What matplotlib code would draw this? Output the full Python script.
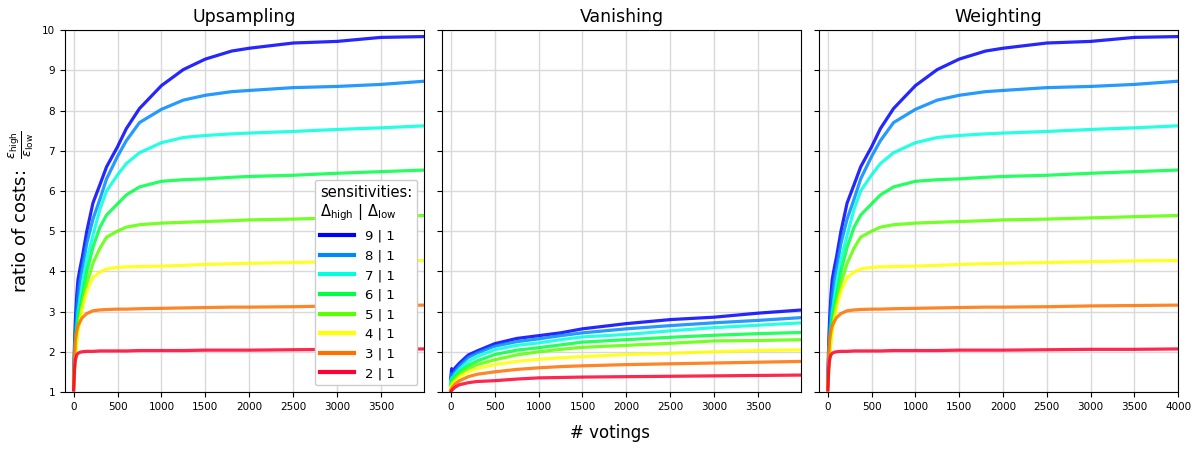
import numpy as np
import matplotlib
matplotlib.use("Agg")
import matplotlib.pyplot as plt

# sensitivity pairs, top of chart to bottom
labels = ["9 | 1", "8 | 1", "7 | 1", "6 | 1", "5 | 1", "4 | 1", "3 | 1", "2 | 1"]

# Upsampling / Weighting (both panels look the same)
x_up = [0, 10, 20, 35, 50, 75, 100, 150, 220, 300, 375, 500, 600, 750, 1000, 1250, 1500,
        1800, 2000, 2500, 3000, 3500, 3999]
up_9 = [1.35, 2.2, 2.8, 3.4, 3.8, 4.1, 4.37, 5.0, 5.7, 6.16, 6.6, 7.1, 7.55, 8.05, 8.62, 9.02, 9.28,
        9.48, 9.55, 9.68, 9.72, 9.82, 9.84]
up_8 = [1.3, 2.0, 2.5, 3.0, 3.4, 3.8, 4.1, 4.7, 5.3, 5.8, 6.3, 6.86, 7.25, 7.7, 8.03, 8.26, 8.38,
        8.47, 8.5, 8.57, 8.6, 8.65, 8.73]
up_7 = [1.25, 1.8, 2.2, 2.6, 3.0, 3.35, 3.7, 4.3, 4.9, 5.55, 6.0, 6.4, 6.68, 6.95, 7.2, 7.33, 7.38,
        7.42, 7.44, 7.48, 7.53, 7.57, 7.62]
up_6 = [1.2, 1.7, 2.0, 2.45, 2.8, 3.1, 3.4, 4.0, 4.6, 5.1, 5.4, 5.68, 5.9, 6.1, 6.24, 6.28, 6.3,
        6.34, 6.36, 6.39, 6.44, 6.48, 6.52]
up_5 = [1.15, 1.6, 1.9, 2.3, 2.6, 2.9, 3.2, 3.7, 4.2, 4.58, 4.85, 5.0, 5.1, 5.16, 5.2, 5.22, 5.24,
        5.26, 5.28, 5.3, 5.33, 5.36, 5.39]
up_4 = [1.1, 1.5, 1.8, 2.2, 2.5, 2.8, 3.1, 3.5, 3.85, 3.98, 4.06, 4.1, 4.11, 4.12, 4.13, 4.15, 4.17,
        4.19, 4.2, 4.22, 4.24, 4.26, 4.27]
up_3 = [1.05, 1.9, 2.3, 2.52, 2.65, 2.76, 2.85, 2.95, 3.02, 3.04, 3.05, 3.06, 3.06, 3.07, 3.08, 3.09, 3.1,
        3.11, 3.11, 3.12, 3.14, 3.15, 3.16]
up_2 = [1.05, 1.55, 1.8, 1.92, 1.96, 1.99, 2.0, 2.01, 2.01, 2.02, 2.02, 2.02, 2.02, 2.03, 2.03, 2.03, 2.04,
        2.04, 2.04, 2.05, 2.06, 2.06, 2.07]

# Vanishing
x_van = [0, 10, 20, 50, 100, 200, 300, 500, 750, 1000, 1250, 1500, 2000, 2500, 3000, 3500, 3999]
van_9 = [1.35, 1.58, 1.5, 1.6, 1.72, 1.92, 2.02, 2.2, 2.33, 2.4, 2.47, 2.57, 2.7, 2.8, 2.86, 2.96, 3.04]
van_8 = [1.3, 1.45, 1.42, 1.52, 1.65, 1.86, 1.97, 2.14, 2.25, 2.32, 2.4, 2.47, 2.57, 2.65, 2.72, 2.78, 2.85]
van_7 = [1.25, 1.35, 1.35, 1.45, 1.57, 1.76, 1.88, 2.05, 2.16, 2.22, 2.3, 2.37, 2.43, 2.52, 2.6, 2.66, 2.72]
van_6 = [1.2, 1.26, 1.3, 1.38, 1.5, 1.66, 1.77, 1.93, 2.04, 2.1, 2.17, 2.24, 2.3, 2.36, 2.41, 2.45, 2.48]
van_5 = [1.15, 1.2, 1.25, 1.33, 1.44, 1.58, 1.68, 1.8, 1.92, 2.0, 2.06, 2.11, 2.16, 2.21, 2.27, 2.28, 2.3]
van_4 = [1.1, 1.15, 1.2, 1.28, 1.38, 1.5, 1.58, 1.68, 1.76, 1.81, 1.85, 1.88, 1.93, 1.96, 2.0, 2.03, 2.05]
van_3 = [1.05, 1.08, 1.12, 1.2, 1.28, 1.38, 1.44, 1.5, 1.56, 1.6, 1.63, 1.65, 1.68, 1.7, 1.72, 1.74, 1.76]
van_2 = [1.0, 1.03, 1.06, 1.12, 1.18, 1.23, 1.26, 1.28, 1.32, 1.35, 1.36, 1.37, 1.38, 1.39, 1.4, 1.41, 1.42]

upsampling = [up_9, up_8, up_7, up_6, up_5, up_4, up_3, up_2]
vanishing = [van_9, van_8, van_7, van_6, van_5, van_4, van_3, van_2]
weighting = upsampling

panels = [("Upsampling", x_up, upsampling, 3990),
          ("Vanishing", x_van, vanishing, 3990),
          ("Weighting", x_up, weighting, 4000)]

colors = ["#0000ff", "#0088ff", "#00ffe0", "#00ff44", "#5cff00", "#ffff00", "#ff7000", "#ff0030"]

fig = plt.figure(figsize=(12.01, 4.5), dpi=100)
lefts = [0.054, 0.368, 0.682]
axes = []
for i, (title, xs, series, xmax) in enumerate(panels):
    ax = fig.add_axes([lefts[i], 0.129, 0.299, 0.804], sharey=axes[0] if axes else None)
    axes.append(ax)
    for ys, c, lab in zip(series, colors, labels):
        ax.plot(xs, ys, color=c, lw=2.3, alpha=0.85, label=lab)
    ax.set_xlim(-100, xmax)
    ax.set_ylim(1, 10)
    ax.set_xticks(np.arange(0, xmax + 1, 500))
    ax.set_yticks(np.arange(1, 11, 1))
    ax.grid(True, color="#d9d9d9", lw=1)
    ax.set_axisbelow(True)
    ax.tick_params(labelsize=7.5)
    ax.set_title(title, fontsize=12.5)
    if i > 0:
        ax.tick_params(labelleft=False)

axes[0].set_ylabel(r"ratio of costs:  $\frac{\varepsilon_\mathrm{high}}{\varepsilon_\mathrm{low}}$",
                   fontsize=13)
leg = axes[0].legend(loc="lower right", fontsize=9.5, handlelength=2.6,
                     title="sensitivities:\n$\\Delta_\\mathrm{high}$ | $\\Delta_\\mathrm{low}$",
                     title_fontsize=10.5, framealpha=1.0)
leg._legend_box.align = "left"
for line in leg.get_lines():
    line.set_linewidth(3)
    line.set_alpha(1)

fig.text(0.508, 0.027, "# votings", ha="center", fontsize=12)

fig.savefig("out.png", dpi=100)
